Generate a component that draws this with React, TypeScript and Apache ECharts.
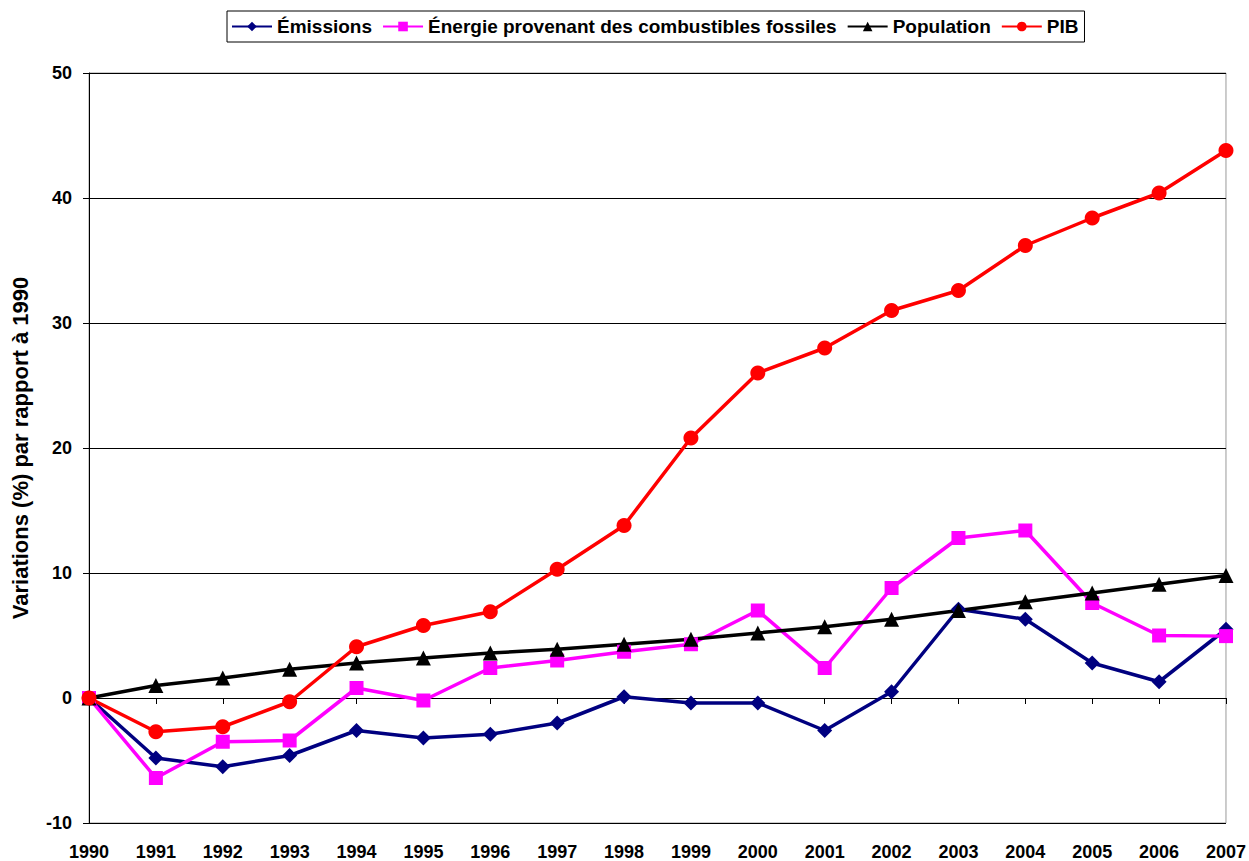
import React, { useEffect, useRef } from "react";
import * as echarts from "echarts";

const years = ["1990","1991","1992","1993","1994","1995","1996","1997","1998","1999","2000","2001","2002","2003","2004","2005","2006","2007"];
const emissions = [0, -4.8, -5.5, -4.6, -2.6, -3.2, -2.9, -2.0, 0.1, -0.4, -0.4, -2.6, 0.5, 7.1, 6.3, 2.8, 1.3, 5.5];
const energie = [0, -6.4, -3.5, -3.4, 0.8, -0.2, 2.4, 3.0, 3.7, 4.3, 7.0, 2.4, 8.8, 12.8, 13.4, 7.6, 5.0, 4.95];
const population = [0, 1.0, 1.6, 2.3, 2.8, 3.2, 3.6, 3.9, 4.3, 4.7, 5.2, 5.7, 6.3, 7.0, 7.7, 8.4, 9.1, 9.8];
const pib = [0, -2.7, -2.3, -0.3, 4.1, 5.8, 6.9, 10.3, 13.8, 20.8, 26.0, 28.0, 31.0, 32.6, 36.2, 38.4, 40.4, 43.8];

const FONT = "Liberation Sans, Arial, sans-serif";

export default function App() {
  const ref = useRef<HTMLDivElement>(null);
  useEffect(() => {
    if (!ref.current) return;
    const chart = echarts.init(ref.current, null, { renderer: "svg" });
    const mk = (name: string, data: number[], color: string, symbol: string, size: number) => ({
      name,
      type: "line",
      data,
      symbol,
      symbolSize: size,
      lineStyle: { color, width: 3.5 },
      itemStyle: { color, borderWidth: 0 },
      z: 3,
    });
    chart.setOption({
      animation: false,
      backgroundColor: "#fff",
      textStyle: { fontFamily: FONT },
      legend: {
        left: 227,
        top: 11,
        padding: [6, 6, 6, 4],
        borderColor: "#000",
        borderWidth: 1,
        itemGap: 10,
        itemWidth: 40,
        itemHeight: 12,
        textStyle: { fontFamily: FONT, fontWeight: "bold", fontSize: 19, color: "#000" },
        data: ["Émissions", "Énergie provenant des combustibles fossiles", "Population", "PIB"],
      },
      grid: {
        left: 89,
        right: 23,
        top: 73,
        bottom: 37,
        show: true,
        borderColor: "#999",
        borderWidth: 1,
      },
      xAxis: {
        type: "category",
        data: years,
        boundaryGap: false,
        axisLine: { lineStyle: { color: "#000", width: 1 } },
        axisTick: { show: true, length: 6, lineStyle: { color: "#000" }, interval: 0 },
        axisLabel: { fontFamily: FONT, fontWeight: "bold", fontSize: 18, color: "#000", margin: 20, interval: 0 },
        splitLine: { show: false },
      },
      yAxis: {
        type: "value",
        min: -10,
        max: 50,
        interval: 10,
        name: "Variations (%) par rapport à 1990",
        nameLocation: "middle",
        nameGap: 58,
        nameTextStyle: { fontFamily: FONT, fontWeight: "bold", fontSize: 22, color: "#000" },
        axisLine: { show: true, lineStyle: { color: "#000", width: 1 } },
        axisTick: { show: true, length: 6, lineStyle: { color: "#000" } },
        axisLabel: { fontFamily: FONT, fontWeight: "bold", fontSize: 18, color: "#000", margin: 17 },
        splitLine: { show: true, lineStyle: { color: "#000", width: 1 } },
      },
      series: [
        mk("Émissions", emissions, "#000080", "diamond", 15),
        mk("Énergie provenant des combustibles fossiles", energie, "#FF00FF", "rect", 14),
        mk("Population", population, "#000000", "triangle", 15),
        mk("PIB", pib, "#FF0000", "circle", 15),
      ],
    });
    return () => chart.dispose();
  }, []);
  return <div ref={ref} style={{ width: 1249, height: 861, position: "absolute", left: 0, top: 0 }} />;
}
